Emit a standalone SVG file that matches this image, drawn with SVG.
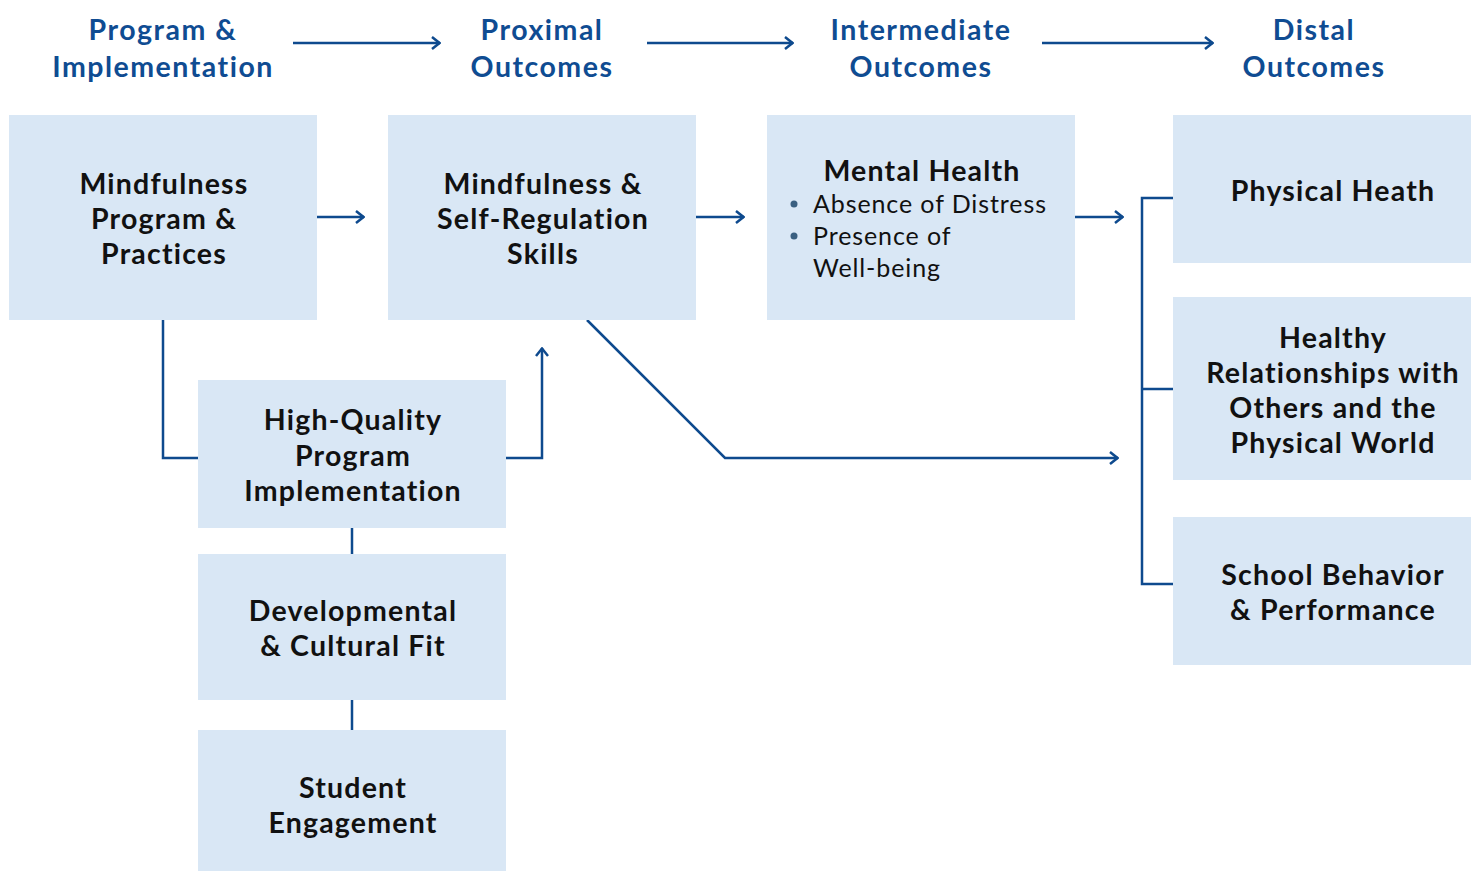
<svg xmlns="http://www.w3.org/2000/svg" width="1471" height="871" viewBox="0 0 1471 871">
<defs>
<style>
.box{fill:#D9E7F5;}
.hd{font-family:Lato,"Noto Sans",sans-serif;font-weight:700;font-size:28.5px;letter-spacing:1.5px;fill:#0F4C92;text-anchor:middle;}
.t{font-family:Lato,"Noto Sans",sans-serif;font-weight:700;font-size:28.5px;letter-spacing:1.2px;fill:#111;text-anchor:middle;}
.r{font-family:Lato,"Noto Sans",sans-serif;font-weight:400;font-size:25px;letter-spacing:0.9px;fill:#111;}
.ln{fill:none;stroke:#0E4A8E;stroke-width:2.5;}
</style>
<marker id="ah" viewBox="0 0 12 14" refX="11" refY="7" markerWidth="12" markerHeight="14" markerUnits="userSpaceOnUse" orient="auto">
<polyline points="3,1 10.5,7 3,13" fill="none" stroke="#0E4A8E" stroke-width="2.5"/>
</marker>
</defs>
<rect width="1471" height="871" fill="#fff"/>
<g id="headers">
<text class="hd" x="163" y="40">Program &amp;</text>
<text class="hd" x="163" y="77">Implementation</text>
<text class="hd" x="542" y="40">Proximal</text>
<text class="hd" x="542" y="77">Outcomes</text>
<text class="hd" x="921" y="40">Intermediate</text>
<text class="hd" x="921" y="77">Outcomes</text>
<text class="hd" x="1314" y="40">Distal</text>
<text class="hd" x="1314" y="77">Outcomes</text>
</g>
<g id="connectors">
<line class="ln" x1="293" y1="43" x2="440" y2="43" marker-end="url(#ah)"/>
<line class="ln" x1="647" y1="43" x2="793" y2="43" marker-end="url(#ah)"/>
<line class="ln" x1="1042" y1="43" x2="1213" y2="43" marker-end="url(#ah)"/>
<line class="ln" x1="317" y1="217" x2="364" y2="217" marker-end="url(#ah)"/>
<line class="ln" x1="696" y1="217" x2="744" y2="217" marker-end="url(#ah)"/>
<line class="ln" x1="1075" y1="217" x2="1123" y2="217" marker-end="url(#ah)"/>
<polyline class="ln" points="1173,198 1142,198 1142,584 1173,584"/>
<line class="ln" x1="1142" y1="389" x2="1173" y2="389"/>
<polyline class="ln" points="163,320 163,458 198,458"/>
<polyline class="ln" points="506,458 542,458 542,348" marker-end="url(#ah)"/>
<line class="ln" x1="352" y1="528" x2="352" y2="554"/>
<line class="ln" x1="352" y1="700" x2="352" y2="730"/>
<polyline class="ln" points="587,320 725,458 1118,458" marker-end="url(#ah)"/>
</g>
<g id="n-program">
<rect class="box" x="9" y="115" width="308" height="205"/>
<text class="t" x="164" y="194">Mindfulness</text>
<text class="t" x="164" y="229">Program &amp;</text>
<text class="t" x="164" y="264">Practices</text>
</g>
<g id="n-skills">
<rect class="box" x="388" y="115" width="308" height="205"/>
<text class="t" x="543" y="194">Mindfulness &amp;</text>
<text class="t" x="543" y="229">Self-Regulation</text>
<text class="t" x="543" y="264">Skills</text>
</g>
<g id="n-mental">
<rect class="box" x="767" y="115" width="308" height="205"/>
<text class="t" x="922" y="181">Mental Health</text>
<circle cx="794" cy="204" r="3.5" fill="#3A5F80"/>
<circle cx="794" cy="236" r="3.5" fill="#3A5F80"/>
<text class="r" x="813" y="213">Absence of Distress</text>
<text class="r" x="813" y="245">Presence of</text>
<text class="r" x="813" y="277">Well-being</text>
</g>
<g id="n-physical">
<rect class="box" x="1173" y="115" width="298" height="148"/>
<text class="t" x="1333" y="201">Physical Heath</text>
</g>
<g id="n-relationships">
<rect class="box" x="1173" y="297" width="298" height="183"/>
<text class="t" x="1333" y="348">Healthy</text>
<text class="t" x="1333" y="383">Relationships with</text>
<text class="t" x="1333" y="418">Others and the</text>
<text class="t" x="1333" y="453">Physical World</text>
</g>
<g id="n-school">
<rect class="box" x="1173" y="517" width="298" height="148"/>
<text class="t" x="1333" y="585">School Behavior</text>
<text class="t" x="1333" y="620">&amp; Performance</text>
</g>
<g id="n-implementation">
<rect class="box" x="198" y="380" width="308" height="148"/>
<text class="t" x="353" y="430">High-Quality</text>
<text class="t" x="353" y="466">Program</text>
<text class="t" x="353" y="501">Implementation</text>
</g>
<g id="n-fit">
<rect class="box" x="198" y="554" width="308" height="146"/>
<text class="t" x="353" y="621">Developmental</text>
<text class="t" x="353" y="656">&amp; Cultural Fit</text>
</g>
<g id="n-engagement">
<rect class="box" x="198" y="730" width="308" height="141"/>
<text class="t" x="353" y="798">Student</text>
<text class="t" x="353" y="833">Engagement</text>
</g>
</svg>
